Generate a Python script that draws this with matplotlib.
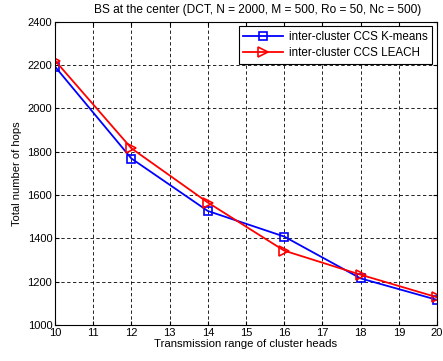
import matplotlib
matplotlib.use("Agg")
import matplotlib.pyplot as plt

x = [10, 12, 14, 16, 18, 20]
kmeans = [2192, 1768, 1526, 1408, 1215, 1116]
leach = [2220, 1815, 1565, 1343, 1232, 1128]
xticks = list(range(10, 21))
yticks = list(range(1000, 2401, 200))

plt.rcParams['font.family'] = ['Liberation Sans', 'DejaVu Sans']

fig = plt.figure(figsize=(4.43, 3.61), dpi=100)
ax = fig.add_axes([55/443, 36/361, (437-55)/443, (325-21.5)/361])

ax.plot(x, kmeans, color='blue', marker='s', markersize=6, markerfacecolor='none',
        markeredgewidth=1.2, linewidth=1.3, label='inter-cluster CCS K-means')
ax.plot(x, leach, color='red', marker='>', markersize=7, markerfacecolor='none',
        markeredgewidth=1.2, linewidth=1.3, label='inter-cluster CCS LEACH')

ax.set_xlim(10, 20)
ax.set_ylim(1000, 2400)
ax.set_xticks(xticks)
ax.set_yticks(yticks)
ax.tick_params(direction='in', top=True, right=True, labelsize=8, length=3, pad=2)
ax.grid(True, color='black', linestyle=(0, (4, 3)), linewidth=0.6)
for s in ax.spines.values():
    s.set_linewidth(0.8)

ax.set_title('BS at the center (DCT, N = 2000, M = 500, Ro = 50, Nc = 500)',
             fontsize=8.6, pad=6, x=0.531)
ax.set_xlabel('Transmission range of cluster heads', fontsize=8.2, labelpad=1)
ax.set_ylabel('Total number of hops', fontsize=8, labelpad=4)

leg = ax.legend(loc='upper right', fontsize=8.4, fancybox=False, edgecolor='black',
                framealpha=1, borderaxespad=0.4, handlelength=3.4, borderpad=0.4,
                labelspacing=0.35, handletextpad=0.5)
leg.get_frame().set_linewidth(0.8)

fig.savefig('out.png', dpi=100)
